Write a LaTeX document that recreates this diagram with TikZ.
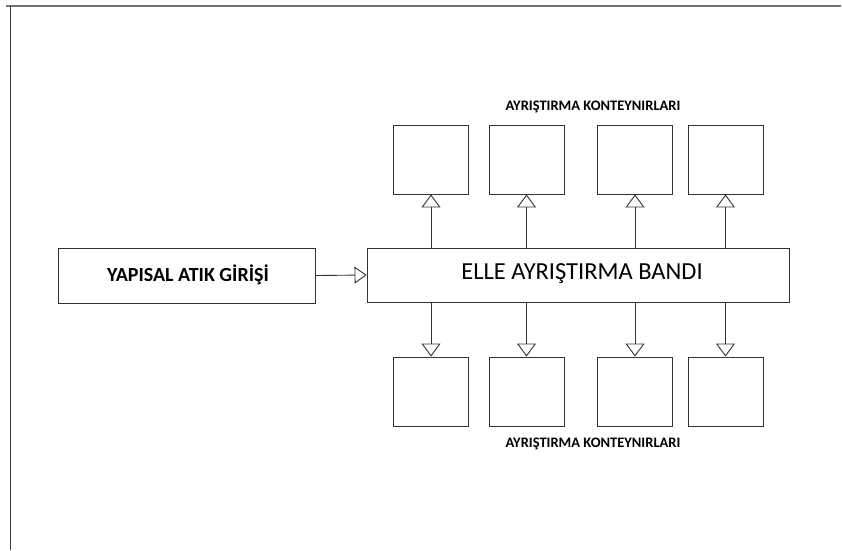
\documentclass[tikz,border=0pt]{standalone}
\usepackage{fontspec}
\setmainfont{Carlito}
\usetikzlibrary{arrows.meta}
\begin{document}
\begin{tikzpicture}[x=1pt,y=-1pt,
  line width=0.9pt,
  box/.style={draw=black!80, line width=0.9pt, inner sep=0pt, minimum width=75pt, minimum height=69pt},
  flow/.style={draw=black!80, line width=0.9pt, -{Triangle[open, length=13pt, width=19pt, line width=0.9pt]}},
  mainarrow/.style={draw=black!80, line width=0.9pt, -{Triangle[open, length=12pt, width=17pt, line width=0.9pt]}},
  lbl/.style={font=\bfseries\fontsize{14.5}{14.5}\selectfont, text=black, inner sep=0pt}]
  % canvas
  \useasboundingbox (0,0) rectangle (842,550);
  \fill[white] (0,0) rectangle (842,550);
  % page frame (top and left edges)
  \draw[black!55, line width=1.2pt] (6,6) -- (841,6);
  \draw[black!75, line width=1pt] (10.5,6) -- (10.5,550);

  % input and sorting belt
  \node[draw=black!80, line width=0.9pt, minimum width=257pt, minimum height=55pt, inner sep=0pt] (giris) at (186.5,275.5) {};
  \node[font=\bfseries\fontsize{20}{20}\selectfont, text=black, inner sep=0pt] (giristxt) at (188,275) {YAPISAL ATIK GİRİŞİ};
  \node[draw=black!80, line width=0.9pt, minimum width=422pt, minimum height=54pt, inner sep=0pt] (bant) at (578,275) {};
  \node[font=\fontsize{24.5}{24.5}\selectfont, text=black, inner sep=0pt] (banttxt) at (582,274) {ELLE AYRIŞTIRMA BANDI};

  \draw[mainarrow] (giris.east) -- (bant.west);

  % upper containers
  \node[box] (u1) at (431,159.5) {};
  \node[box] (u2) at (526.5,159.5) {};
  \node[box] (u3) at (635,159.5) {};
  \node[box] (u4) at (725.5,159.5) {};
  % lower containers
  \node[box] (d1) at (431,391.5) {};
  \node[box] (d2) at (526.5,391.5) {};
  \node[box] (d3) at (635,391.5) {};
  \node[box] (d4) at (725.5,391.5) {};

  \foreach \i in {1,2,3,4} {
    \draw[flow] (bant.north -| u\i.south) -- (u\i.south);
    \draw[flow] (bant.south -| d\i.north) -- (d\i.north);
  }

  \node[lbl] (ust) at (593,107) {AYRIŞTIRMA KONTEYNIRLARI};
  \node[lbl] (alt) at (593,444) {AYRIŞTIRMA KONTEYNIRLARI};
\end{tikzpicture}
\end{document}
